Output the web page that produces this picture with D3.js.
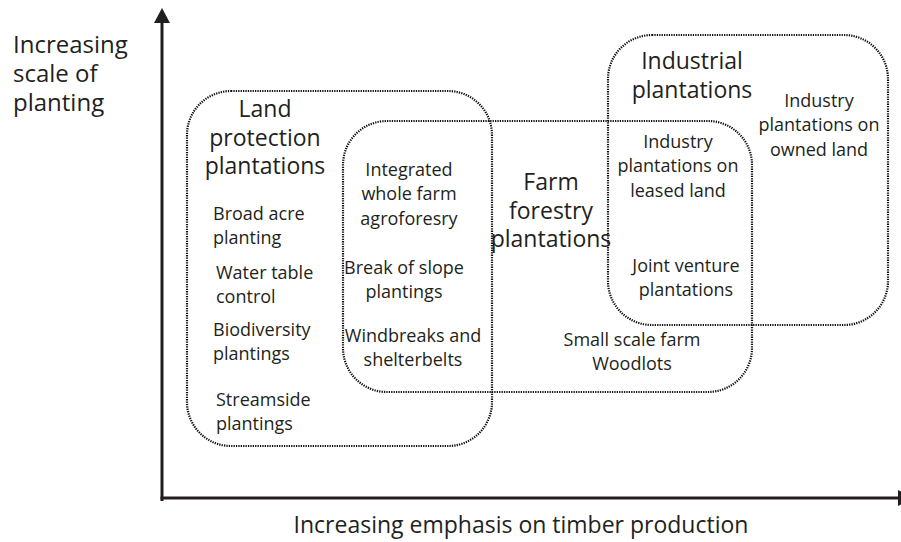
<!DOCTYPE html>
<meta charset="utf-8">
<style>
  body { margin: 0; background: #fff; }
  .zone {
    fill: none;
    stroke: #111;
    stroke-width: 2.2;
    stroke-dasharray: 1.3,1.1;
  }
  .axis { stroke: #231f20; stroke-width: 3; fill: none; }
  .head { fill: #231f20; }
  text { font-family: "Open Sans", sans-serif; fill: #231f20; }
  .big { font-size: 23px; }
  .small { font-size: 18px; }
</style>
<body>
<script src="https://d3js.org/d3.v7.min.js"></script>
<script>

// overlapping plantation zones (x = timber emphasis, y = scale of planting)
var zoneNames = ["Land protection", "Farm forestry", "Industrial"];
var zoneX0 = [25, 181, 446];
var zoneX1 = [330, 590, 726];
var zoneY0 = [52, 106, 173];
var zoneY1 = [407, 377, 463];

// labels inside the chart: lines, anchor point, size
var labelLines = [
  ["Land", "protection", "plantations"],
  ["Broad acre", "planting"],
  ["Water table", "control"],
  ["Biodiversity", "plantings"],
  ["Streamside", "plantings"],
  ["Integrated", "whole farm", "agroforesry"],
  ["Break of slope", "plantings"],
  ["Windbreaks and", "shelterbelts"],
  ["Farm", "forestry", "plantations"],
  ["Small scale farm", "Woodlots"],
  ["Industrial", "plantations"],
  ["Industry", "plantations on", "owned land"],
  ["Industry", "plantations on", "leased land"],
  ["Joint venture", "plantations"]
];
var labelX = [103, 51, 54, 51, 54, 247, 242, 251, 389, 470, 530, 657, 516, 524];
var labelY = [381, 278, 219, 162, 92, 322, 224, 156, 308, 152, 429, 391, 350, 226];
var labelKind = ["big", "small", "small", "small", "small", "small", "small", "small",
                 "big", "small", "big", "small", "small", "small"];
var labelAlign = ["middle", "start", "start", "start", "start", "middle", "middle", "middle",
                  "middle", "middle", "middle", "middle", "middle", "middle"];

var yTitle = ["Increasing", "scale of", "planting"];
var xTitle = "Increasing emphasis on timber production";

var width = 901, height = 542;

var x = d3.scaleLinear().domain([0, 740]).range([162, 902]);
var y = d3.scaleLinear().domain([0, 490]).range([498, 8]);

var svg = d3.select("body").append("svg")
    .attr("width", width)
    .attr("height", height);

// zones
svg.selectAll(".zone")
    .data(zoneNames)
  .enter().append("rect")
    .attr("class", "zone")
    .attr("x", function(d, i) { return x(zoneX0[i]); })
    .attr("y", function(d, i) { return y(zoneY1[i]); })
    .attr("width", function(d, i) { return x(zoneX1[i]) - x(zoneX0[i]); })
    .attr("height", function(d, i) { return y(zoneY0[i]) - y(zoneY1[i]); })
    .attr("rx", 44).attr("ry", 44);

// axes with arrow heads
svg.append("path")
    .attr("class", "axis")
    .attr("d", "M" + x(0) + "," + (y(0) + 3) + "V" + (y(490) + 12));
svg.append("path")
    .attr("class", "axis")
    .attr("d", "M" + (x(0) - 1.5) + "," + y(0) + "H" + (x(736) + 2));
svg.append("path")
    .attr("class", "head")
    .attr("d", "M" + x(0) + "," + y(490) + "l-8,15h16z");
svg.append("path")
    .attr("class", "head")
    .attr("d", "M" + x(736) + "," + (y(0) - 8) + "l15,8l-15,8z");

// labels
var lab = svg.selectAll(".lab")
    .data(labelLines)
  .enter().append("text")
    .attr("class", function(d, i) { return "lab " + labelKind[i]; })
    .attr("text-anchor", function(d, i) { return labelAlign[i]; })
    .attr("x", function(d, i) { return x(labelX[i]); })
    .attr("y", function(d, i) { return y(labelY[i]); });

lab.each(function(d, i) {
  var step = labelKind[i] == "big" ? 28.5 : 24.3;
  d3.select(this).selectAll("tspan")
      .data(d)
    .enter().append("tspan")
      .attr("x", x(labelX[i]))
      .attr("dy", function(t, j) { return j ? step : 0; })
      .text(function(t) { return t; });
});

// axis titles
svg.append("text")
    .attr("class", "big")
    .attr("x", 13).attr("y", 53)
    .style("font-size", "24px")
    .selectAll("tspan")
    .data(yTitle)
  .enter().append("tspan")
    .attr("x", 13)
    .attr("dy", function(t, j) { return j ? 29 : 0; })
    .text(function(t) { return t; });

svg.append("text")
    .attr("class", "big")
    .attr("text-anchor", "middle")
    .attr("x", 521).attr("y", 533)
    .text(xTitle);

</script>
</body>
